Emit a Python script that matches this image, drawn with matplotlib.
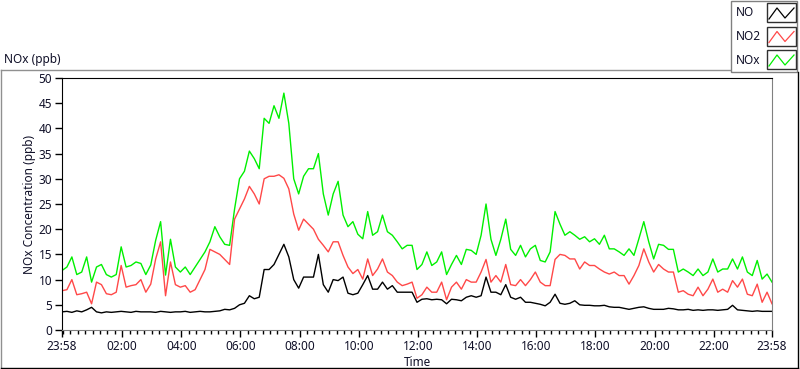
import matplotlib
matplotlib.use("Agg")
import matplotlib.pyplot as plt
from matplotlib.patches import Rectangle
from matplotlib.lines import Line2D
import numpy as np

# minutes after 23:58 (previous day), one reading every 10 minutes
minutes = np.arange(0, 1441, 10)

no = [3.6, 3.7, 3.5, 3.8, 3.6, 4.0,
      4.5, 3.6, 3.4, 3.6, 3.5, 3.6,
      3.7, 3.6, 3.5, 3.7, 3.6, 3.6,
      3.6, 3.5, 3.7, 3.6, 3.5, 3.6,
      3.6, 3.7, 3.5, 3.6, 3.7, 3.6,
      3.6, 3.7, 3.8, 4.1, 4.0, 4.3,
      5.0, 5.3, 6.8, 6.2, 6.5, 12.0,
      12.0, 13.0, 15.0, 17.0, 14.5, 10.0,
      8.3, 10.5, 10.5, 10.5, 15.0, 9.0,
      7.5, 10.0, 9.8, 10.5, 7.3, 7.0,
      7.3, 9.0, 10.8, 8.1, 8.1, 9.5,
      8.1, 8.8, 7.5, 7.5, 7.5, 7.5,
      5.5, 6.1, 6.2, 6.0, 6.1, 6.0,
      5.2, 6.1, 6.0, 5.8, 6.5, 6.8,
      6.5, 6.8, 10.5, 7.5, 7.5, 7.0,
      9.0, 6.5, 6.1, 6.5, 5.5, 5.5,
      5.3, 5.1, 4.8, 5.5, 7.1, 5.3,
      5.1, 5.3, 5.8, 5.0, 4.9, 4.9,
      4.8, 4.8, 4.9, 4.6, 4.5, 4.5,
      4.3, 4.1, 4.3, 4.5, 4.6, 4.3,
      4.1, 4.1, 4.1, 4.3, 4.2, 4.0,
      4.0, 4.1, 3.9, 4.0, 3.9, 4.0,
      4.0, 3.9, 4.0, 4.1, 4.9, 4.0,
      3.9, 3.8, 3.7, 3.8, 3.7, 3.7,
      3.7]

no2 = [7.8, 8.0, 10.0, 7.0, 7.2, 7.5,
       5.2, 9.5, 9.0, 7.2, 7.0, 7.5,
       12.8, 8.5, 8.8, 9.0, 10.0, 7.5,
       9.1, 14.1, 17.5, 6.8, 13.5, 9.0,
       8.5, 8.8, 7.5, 8.0, 10.0, 12.0,
       16.0, 15.5, 15.0, 14.0, 13.0, 22.0,
       24.0, 26.0, 28.5, 27.0, 25.0, 30.0,
       30.5, 30.5, 30.8, 30.1, 28.0, 23.0,
       19.8, 22.0, 21.0, 20.0, 18.0, 16.8,
       15.5, 17.5, 17.5, 14.8, 12.5, 11.2,
       12.0, 10.1, 14.1, 10.8, 12.1, 14.1,
       11.5, 10.8, 9.5, 8.8, 9.1, 9.5,
       6.3, 7.0, 8.5, 7.5, 7.5, 9.5,
       6.0, 8.5, 9.5, 8.1, 10.0, 9.5,
       9.5, 11.5, 14.0, 9.5, 10.8, 9.5,
       13.0, 9.0, 8.8, 10.0, 8.8, 10.0,
       11.5, 9.5, 8.8, 8.8, 14.0, 15.0,
       14.8, 14.1, 14.1, 12.1, 13.5, 12.8,
       12.8, 12.1, 11.5, 11.1, 11.5, 10.8,
       10.8, 9.1, 10.8, 12.8, 16.1, 13.5,
       11.5, 13.0, 12.1, 11.5, 11.5, 7.5,
       7.8, 7.1, 6.8, 8.5, 6.8, 8.1,
       10.1, 7.5, 8.1, 7.5, 9.8, 8.5,
       10.1, 7.1, 6.8, 9.1, 5.5, 7.5,
       5.2]

nox = [11.8, 12.5, 14.5, 11.0, 11.5, 14.5,
       9.5, 12.5, 13.0, 11.0, 10.5, 11.0,
       16.5, 12.5, 12.8, 13.5, 13.2, 11.0,
       12.9, 17.8, 21.5, 10.9, 18.0, 12.5,
       11.5, 12.5, 11.0, 12.5, 14.0, 15.5,
       17.5, 20.5, 18.5, 17.0, 16.8, 24.0,
       30.0, 31.5, 35.5, 34.0, 32.0, 42.0,
       41.0, 44.5, 42.0, 47.0, 41.0, 30.0,
       27.0, 30.5, 32.0, 32.0, 35.0, 27.0,
       22.8, 27.0, 29.5, 22.8, 20.5, 21.5,
       19.0, 18.1, 23.5, 18.8, 19.5, 22.8,
       19.5, 18.8, 17.5, 16.1, 16.8, 16.8,
       12.0, 13.0, 15.5, 12.8, 13.5, 15.5,
       11.0, 13.0, 14.8, 13.0, 16.0, 15.8,
       15.0, 18.8, 25.0, 18.0, 14.8, 18.0,
       22.0, 16.0, 14.8, 16.8, 14.5, 16.1,
       16.8, 13.8, 13.5, 15.5, 23.5, 21.0,
       18.8, 19.5, 18.8, 18.0, 18.5, 17.5,
       18.1, 17.0, 18.8, 16.1, 16.1, 15.5,
       14.8, 16.1, 14.8, 18.1, 21.5, 17.5,
       14.1, 17.0, 16.8, 16.0, 16.0, 11.5,
       12.1, 11.5, 10.8, 12.1, 10.8, 11.5,
       14.1, 11.5, 12.1, 12.1, 14.1, 12.1,
       14.5, 11.5, 10.8, 13.8, 10.1, 11.1,
       9.5]

tick_pos = [0, 122, 242, 362, 482, 602, 722, 842, 962, 1082, 1202, 1322, 1440]
tick_labels = ["23:58", "02:00", "04:00", "06:00", "08:00", "10:00", "12:00",
               "14:00", "16:00", "18:00", "20:00", "22:00", "23:58"]
series_names = ["NO", "NO2", "NOx"]
series_colors = ["#000000", "#ff4848", "#00f000"]

W, H = 800, 369
txt = "#101028"
fs = 8.5
plt.rcParams['font.family'] = ['Noto Sans', 'DejaVu Sans']

fig = plt.figure(figsize=(W / 100, H / 100), dpi=100)


def fx(x):
    return x / W


def fy(y):
    return 1 - y / H


ax = fig.add_axes([fx(62), fy(330), fx(772) - fx(62), fy(78) - fy(330)])

ax.plot(minutes, nox, color=series_colors[2], lw=1)
ax.plot(minutes, no2, color=series_colors[1], lw=1)
ax.plot(minutes, no, color=series_colors[0], lw=1)

ax.set_xlim(0, 1440)
ax.set_ylim(0, 50)
ax.set_yticks(range(0, 51, 5))
ax.set_xticks(tick_pos)
ax.set_xticklabels(tick_labels)
ax.set_xticks(np.arange(2, 1440, 15), minor=True)
ax.tick_params(axis='both', which='major', length=5, width=1, colors='black',
               labelcolor=txt, labelsize=fs, pad=2)
ax.tick_params(axis='x', which='minor', length=3, width=1, color='black')
ax.spines['top'].set_color('black')
ax.spines['left'].set_color('black')
ax.spines['right'].set_color('#808080')
ax.spines['bottom'].set_color('#808080')
ax.set_ylabel("NOx Concentration (ppb)", color=txt, fontsize=fs, labelpad=2)
ax.set_xlabel("Time", color=txt, fontsize=fs, labelpad=2)

# outer panel frame
fig.add_artist(Line2D([fx(0.5), fx(730)], [fy(69.5), fy(69.5)], color='#909090', lw=1))
fig.add_artist(Line2D([fx(0.5), fx(0.5)], [fy(69.5), fy(368)], color='#909090', lw=1))
fig.add_artist(Line2D([fx(0.5), fx(797.5)], [fy(367.5), fy(367.5)], color='black', lw=1))
fig.add_artist(Line2D([fx(797.5), fx(797.5)], [fy(72), fy(367.5)], color='black', lw=1))

fig.text(fx(4), fy(60), "NOx (ppb)", color=txt, fontsize=fs, va='center', ha='left')

# legend panel
fig.add_artist(Rectangle((fx(730.5), fy(72)), fx(797) - fx(730.5), fy(0.5) - fy(72),
                         transform=fig.transFigure, facecolor='white',
                         edgecolor='#808080', lw=1))
for i, name in enumerate(series_names):
    top = 3 + i * 23.5
    fig.text(fx(736), fy(top + 10), name, color=txt, fontsize=fs, va='center', ha='left')
    fig.add_artist(Rectangle((fx(767), fy(top + 19)), fx(29), fy(0) - fy(19),
                             transform=fig.transFigure, facecolor='white',
                             edgecolor='#303030', lw=1))
    zx = [769, 777, 785, 794]
    zy = [top + 16, top + 5, top + 15, top + 5]
    fig.add_artist(Line2D([fx(v) for v in zx], [fy(v) for v in zy],
                          color=series_colors[i], lw=0.9))

fig.savefig("out.png", dpi=100)
